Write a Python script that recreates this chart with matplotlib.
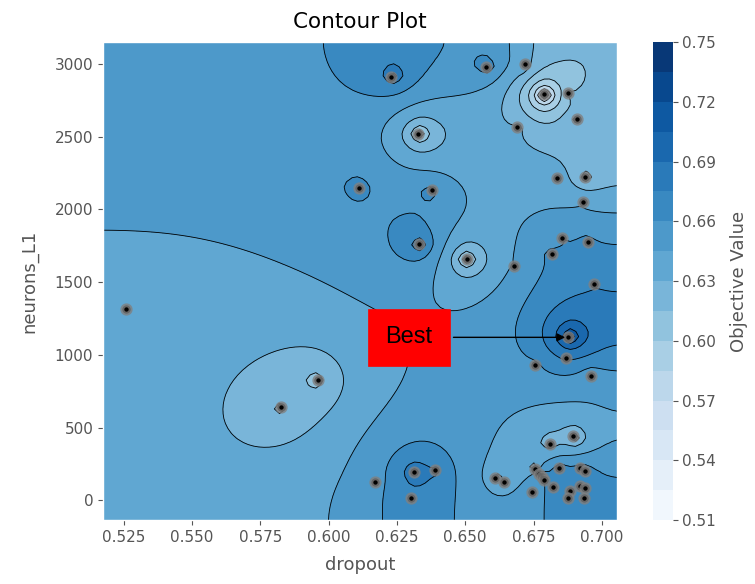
import numpy as np
import matplotlib as mpl
mpl.use('Agg')
import matplotlib.pyplot as plt

# trials: dropout, neurons_L1, objective value
dropout = [0.526, 0.5827, 0.5963, 0.6112, 0.6378, 0.6328, 0.6230, 0.6576, 0.6719,
           0.6788, 0.6876, 0.6910, 0.6690, 0.6330, 0.6507, 0.6680, 0.6836, 0.6940,
           0.6930, 0.6856, 0.6950, 0.6818, 0.6970, 0.6876, 0.6869, 0.6755, 0.6960,
           0.6896, 0.6812, 0.6170, 0.6312, 0.6391, 0.6300, 0.6610, 0.6643,
           0.6754, 0.6769, 0.6780, 0.6790, 0.6842, 0.6920, 0.6940,
           0.6743, 0.6820, 0.6885, 0.6919, 0.6937, 0.6876, 0.6934]
neurons = [1316, 640, 826, 2144, 2135, 2518, 2907, 2978, 3000,
           2790, 2797, 2622, 2563, 1760, 1658, 1612, 2214, 2222,
           2048, 1802, 1775, 1696, 1487, 1120, 976, 930, 853,
           442, 384, 128, 194, 205, 14, 155, 128,
           218, 184, 157, 137, 223, 223, 200,
           60, 94, 64, 98, 87, 14, 14]
objective = [0.642, 0.606, 0.598, 0.672, 0.672, 0.575, 0.700, 0.680, 0.645,
             0.515, 0.620, 0.635, 0.635, 0.700, 0.575, 0.645, 0.645, 0.600,
             0.645, 0.660, 0.665, 0.665, 0.675, 0.745, 0.675, 0.655, 0.645,
             0.600, 0.615, 0.650, 0.700, 0.680, 0.675, 0.625, 0.630,
             0.620, 0.660, 0.670, 0.660, 0.670, 0.665, 0.670,
             0.655, 0.665, 0.670, 0.670, 0.665, 0.675, 0.670]
best = (0.6876, 1120)
levels = np.arange(0.51, 0.7501, 0.015)
cbar_ticks = [0.51, 0.54, 0.57, 0.60, 0.63, 0.66, 0.69, 0.72, 0.75]

x = np.array(dropout); y = np.array(neurons); z = np.array(objective)
n = 100
xpad = (x.max() - x.min()) * 0.05
ypad = (y.max() - y.min()) * 0.05
xi = np.linspace(x.min() - xpad, x.max() + xpad, n)
yi = np.linspace(y.min() - ypad, y.max() + ypad, n)

# put trials on the grid, then fill the rest by solving laplace (red-black SOR)
zi = np.full((n, n), z.mean())
fixed = np.zeros((n, n), bool)
for xv, yv, zv in zip(x, y, z):
    ix = int(np.argmin(np.abs(xi - xv)))
    iy = int(np.argmin(np.abs(yi - yv)))
    zi[iy, ix] = zv
    fixed[iy, ix] = True
cnt = np.full((n, n), 4.0)
cnt[0, :] -= 1; cnt[-1, :] -= 1; cnt[:, 0] -= 1; cnt[:, -1] -= 1
ii, jj = np.indices((n, n))
red = (ii + jj) % 2 == 0
w = 1.93
for it in range(2500):
    for col in (red, ~red):
        s = np.zeros_like(zi)
        s[1:, :] += zi[:-1, :]; s[:-1, :] += zi[1:, :]
        s[:, 1:] += zi[:, :-1]; s[:, :-1] += zi[:, 1:]
        upd = col & ~fixed
        zi[upd] += w * (s[upd] / cnt[upd] - zi[upd])

plt.style.use('ggplot')
fig = plt.figure(figsize=(7.55, 5.84), dpi=100, facecolor='w')
ax = fig.add_axes([0.1364, 0.1096, 0.6808, 0.8184])
cax = fig.add_axes([0.8645, 0.1096, 0.0265, 0.8184])

ax.contour(xi, yi, zi, levels=levels, colors='k', linewidths=0.6)
cs = ax.contourf(xi, yi, zi, levels=levels, cmap='Blues')
ax.scatter(x, y, marker='o', c='black', s=36, edgecolors=(0.5, 0.5, 0.5, 0.8),
           linewidth=2.8, zorder=3)
ax.set_xlim(xi[0], xi[-1]); ax.set_ylim(yi[0], yi[-1])
ax.set_xticks([0.525, 0.55, 0.575, 0.6, 0.625, 0.65, 0.675, 0.7])
ax.tick_params(labelsize=11, colors='#555555')
ax.set_xlabel('dropout', fontsize=13, color='#555555', labelpad=8)
ax.set_ylabel('neurons_L1', fontsize=13, color='#555555', labelpad=12)
ax.set_title('Contour Plot', fontsize=15.5, color='k', pad=10)

ax.annotate('Best', xy=best, xytext=(0.6295, best[1]), fontsize=17, ha='center', va='center',
            family='Liberation Sans',
            bbox=dict(boxstyle='square,pad=0.75', fc='red', ec='red'),
            arrowprops=dict(arrowstyle='-|>', color='k', lw=1, mutation_scale=12))

cb = fig.colorbar(cs, cax=cax, ticks=cbar_ticks)
cb.outline.set_visible(False)
cb.ax.tick_params(labelsize=11, colors='#555555')
cb.set_label('Objective Value', fontsize=13, color='#555555', labelpad=10)

plt.savefig('out.png', dpi=100, facecolor='w')
